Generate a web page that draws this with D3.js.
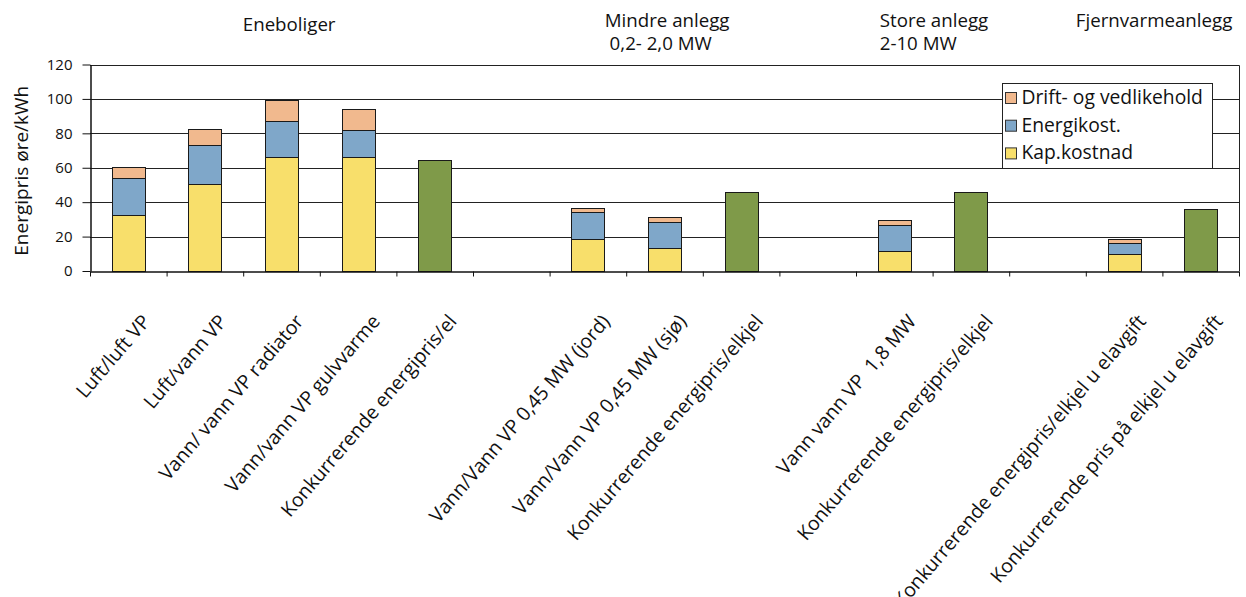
<!DOCTYPE html>
<html>
<head>
<meta charset="utf-8">
<script src="https://cdn.jsdelivr.net/npm/d3@7"></script>
<style>
  html, body { margin: 0; padding: 0; background: #fff; }
  svg { display: block; font-family: "Open Sans", "Noto Sans", sans-serif; }
</style>
</head>
<body>
<svg id="chart" width="1246" height="597"></svg>
<script>
// Category labels along the x axis (blank entries are gaps between groups)
const categories = [
  "Luft/luft VP",
  "Luft/vann VP",
  "Vann/ vann VP radiator",
  "Vann/vann VP gulvvarme",
  "Konkurrerende energipris/el",
  "",
  "Vann/Vann VP 0,45 MW (jord)",
  "Vann/Vann VP 0,45 MW (sjø)",
  "Konkurrerende energipris/elkjel",
  "",
  "Vann vann VP  1,8 MW",
  "Konkurrerende energipris/elkjel",
  "",
  "Konkurrerende energipris/elkjel u elavgift",
  "Konkurrerende pris på elkjel u elavgift"
];

// Cost components, øre/kWh
const kapKostnad   = [32.5, 50.3, 66.0, 66.0, 0, 0, 18.4, 13.2, 0, 0, 11.8, 0, 0, 9.7, 0];
const energiKost   = [21.5, 22.7, 21.3, 16.0, 0, 0, 15.9, 15.1, 0, 0, 14.9, 0, 0, 6.6, 0];
const driftVedlike = [ 6.7,  9.3, 12.0, 12.4, 0, 0,  2.5,  2.9, 0, 0,  2.7, 0, 0, 2.3, 0];
// Competing energy price
const konkurrerende = [0, 0, 0, 0, 64.4, 0, 0, 0, 45.7, 0, 0, 45.7, 0, 0, 35.8];

const yTicks = [0, 20, 40, 60, 80, 100, 120];

const seriesNames = ["Kap.kostnad", "Energikost.", "Drift- og vedlikehold", "Konkurrerende"];
const legendNames = ["Drift- og vedlikehold", "Energikost.", "Kap.kostnad"];

// Group headings above the plot
const groupTitles = [
  ["Eneboliger"],
  ["Mindre anlegg", " 0,2- 2,0 MW"],
  ["Store anlegg", "2-10 MW"],
  ["Fjernvarmeanlegg"]
];

const colors = {
  "Kap.kostnad": "#f8df6b",
  "Energikost.": "#7fa7c9",
  "Drift- og vedlikehold": "#f1b98e",
  "Konkurrerende": "#7f9a49"
};

// Build rows for stacking
const rows = categories.map((c, i) => ({
  idx: i,
  "Kap.kostnad": kapKostnad[i],
  "Energikost.": energiKost[i],
  "Drift- og vedlikehold": driftVedlike[i],
  "Konkurrerende": konkurrerende[i]
}));

const svg = d3.select("#chart");
const plot = { left: 90, right: 1239, top: 64.5, bottom: 271 };

const x = d3.scaleBand()
  .domain(d3.range(categories.length))
  .range([plot.left, plot.right])
  .paddingInner(0.57)
  .paddingOuter(0.285);

// Continuous scale in category units, used for boundaries and heading placement
const xEdge = d3.scaleLinear().domain([0, categories.length]).range([plot.left, plot.right]);

const y = d3.scaleLinear()
  .domain([0, 120])
  .range([plot.bottom, plot.top]);

// Gridlines
svg.append("g")
  .selectAll("line")
  .data(yTicks.filter(t => t > 0 && t < 120))
  .join("line")
  .attr("x1", plot.left).attr("x2", plot.right)
  .attr("y1", d => Math.round(y(d)) + 0.5).attr("y2", d => Math.round(y(d)) + 0.5)
  .attr("stroke", "#222").attr("stroke-width", 1);

// Plot frame (top and right)
svg.append("path")
  .attr("d", `M${plot.left},${Math.round(y(120)) + 0.5}H${plot.right + 0.5}V${plot.bottom}`)
  .attr("fill", "none").attr("stroke", "#222").attr("stroke-width", 1);

// Stacked bars
const stack = d3.stack().keys(seriesNames)(rows);
svg.append("g")
  .selectAll("g")
  .data(stack)
  .join("g")
  .attr("fill", s => colors[s.key])
  .selectAll("rect")
  .data(s => s.filter(d => d[1] - d[0] > 0))
  .join("rect")
  .attr("x", d => Math.round(x(d.data.idx)) + 0.5)
  .attr("width", Math.round(x.bandwidth()))
  .attr("y", d => Math.round(y(d[1])) + 0.5)
  .attr("height", d => Math.round(y(d[0])) - Math.round(y(d[1])))
  .attr("stroke", "#1a1a1a").attr("stroke-width", 1);

// Y axis
const yAxis = svg.append("g")
  .attr("transform", `translate(${plot.left + 0.5},0)`)
  .call(d3.axisLeft(y).tickValues(yTicks).tickSize(8).tickPadding(10).tickSizeOuter(0));
yAxis.select(".domain").attr("stroke", "#111").attr("stroke-width", 1.5);
yAxis.selectAll(".tick line").attr("stroke", "#111");
yAxis.selectAll(".tick text").attr("font-size", 15).attr("fill", "#111")
  .attr("font-family", "'Open Sans', sans-serif");

// X axis with ticks between categories
const xAxis = svg.append("g")
  .attr("transform", `translate(0,${plot.bottom + 0.5})`)
  .call(d3.axisBottom(xEdge).tickValues(d3.range(categories.length + 1)).tickSize(5).tickSizeOuter(0).tickFormat(""));
xAxis.select(".domain").attr("stroke", "#111").attr("stroke-width", 1.5);
xAxis.selectAll(".tick line").attr("stroke", "#111");

// Category labels, rotated
svg.append("g")
  .selectAll("text")
  .data(categories.map((c, i) => ({ c, i })).filter(d => d.c !== ""))
  .join("text")
  .attr("transform", d => `translate(${x(d.i) + x.bandwidth() / 2 + 23},322) rotate(-49.5)`)
  .attr("text-anchor", "end")
  .attr("font-size", 19.5)
  .attr("fill", "#111")
  .style("white-space", "pre")
  .text(d => d.c);

// Y axis title
svg.append("text")
  .attr("transform", `translate(28,${(plot.top + plot.bottom) / 2 + 3}) rotate(-90)`)
  .attr("text-anchor", "middle")
  .attr("font-size", 19)
  .attr("fill", "#111")
  .text("Energipris øre/kWh");

// Group headings: placement in category units along the axis
const titleLayout = [
  { at: 2.6, anchor: "middle", base: 31 },
  { at: 6.72, anchor: "start", base: 27 },
  { at: 10.31, anchor: "start", base: 27 },
  { at: 12.87, anchor: "start", base: 27 }
];
groupTitles.forEach((lines, gi) => {
  const L = titleLayout[gi];
  const t = svg.append("text")
    .attr("font-size", 18.7)
    .attr("fill", "#111")
    .attr("text-anchor", L.anchor)
    .style("white-space", "pre");
  lines.forEach((line, k) => {
    t.append("tspan")
      .attr("x", xEdge(L.at))
      .attr("y", L.base + k * 23)
      .text(line);
  });
});

// Legend
const legend = svg.append("g").attr("transform", "translate(1002.5,83.5)");
legend.append("rect")
  .attr("width", 210).attr("height", 85)
  .attr("fill", "#fff").attr("stroke", "#222").attr("stroke-width", 1);
const item = legend.selectAll("g.item")
  .data(legendNames)
  .join("g")
  .attr("class", "item")
  .attr("transform", (d, i) => `translate(0,${9 + i * 27.7})`);
item.append("rect")
  .attr("x", 3).attr("y", 0).attr("width", 11).attr("height", 11)
  .attr("fill", d => colors[d]).attr("stroke", "#333").attr("stroke-width", 1);
item.append("text")
  .attr("x", 19).attr("y", 11.5)
  .attr("font-size", 19.3)
  .attr("fill", "#111")
  .text(d => d);
</script>
</body>
</html>
